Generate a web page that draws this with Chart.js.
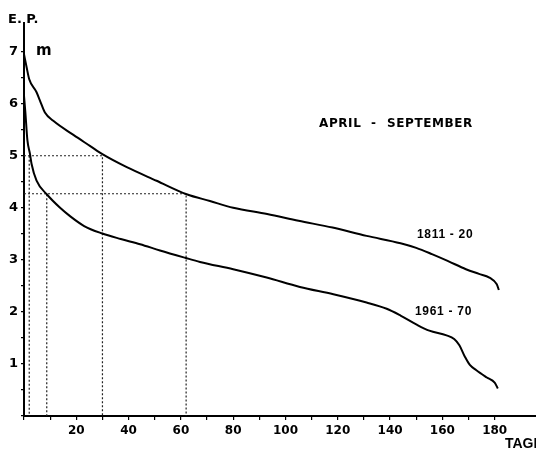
<!DOCTYPE html>
<html>
<head>
<meta charset="utf-8">
<script src="https://cdn.jsdelivr.net/npm/chart.js@4.4.1/dist/chart.umd.min.js"></script>
<style>
  html, body { margin: 0; padding: 0; background: #fff; }
  canvas { display: block; }
</style>
</head>
<body>
<canvas id="ep" width="536" height="449"></canvas>
<script>
// Dauerlinie der Evapotranspiration, April - September
const tage1811 = [0, 1, 2, 4.8, 6.1, 8, 11.2, 18.9, 25.2, 30.3, 39.3, 50.7, 62.2, 71.1, 80, 93, 105, 118, 131, 144, 150, 156, 162, 169, 174, 178, 180.8, 181.6];
const werte1811 = [6.95, 6.70, 6.47, 6.22, 6.06, 5.83, 5.67, 5.40, 5.19, 5.02, 4.78, 4.52, 4.26, 4.13, 4.00, 3.88, 3.75, 3.62, 3.46, 3.32, 3.23, 3.11, 2.98, 2.82, 2.73, 2.66, 2.53, 2.42];

const tage1961 = [0, 0.5, 1.3, 2.3, 2.9, 4.8, 8.7, 13.8, 17.6, 23, 29.7, 37, 44.4, 52, 61.6, 67.3, 80, 92.8, 105.5, 118.3, 131, 138.7, 144, 150, 155, 161.6, 164.5, 166.5, 168.6, 170.5, 173, 177, 180, 181.2];
const werte1961 = [6.15, 5.85, 5.30, 5.03, 4.84, 4.52, 4.26, 4.00, 3.84, 3.65, 3.51, 3.40, 3.30, 3.18, 3.04, 2.96, 2.82, 2.66, 2.48, 2.34, 2.18, 2.06, 1.93, 1.76, 1.64, 1.55, 1.48, 1.36, 1.14, 0.98, 0.88, 0.74, 0.64, 0.53];

// Hilfslinien (gepunktet): Tage / Werte
const hilfe5Tage = [0, 30, 30];
const hilfe5Werte = [5, 5, 0];
const hilfe427Tage = [0, 62, 62];
const hilfe427Werte = [4.27, 4.27, 0];
const hilfeSenkrechtTage = [2, 8.7];
const hilfeSenkrechtWerte = [5, 4.26];

const xMax = 195.8;
const yMax = 7.55;

function punkte(xs, ys) {
  return xs.map((x, i) => ({ x: x, y: ys[i] }));
}

const kurve = { borderColor: "#000", borderWidth: 2, pointRadius: 0, cubicInterpolationMode: "monotone", fill: false };
const punktiert = { borderColor: "#222", borderWidth: 1.2, borderDash: [2, 2], pointRadius: 0, tension: 0, fill: false };

const datasets = [
  { ...kurve, label: "1811-20", data: punkte(tage1811, werte1811) },
  { ...kurve, label: "1961-70", data: punkte(tage1961, werte1961) },
  { ...punktiert, data: punkte(hilfe5Tage, hilfe5Werte) },
  { ...punktiert, data: punkte(hilfe427Tage, hilfe427Werte) }
];
hilfeSenkrechtTage.forEach((t, i) => {
  datasets.push({ ...punktiert, data: punkte([t, t], [hilfeSenkrechtWerte[i], 0]) });
});

const schrift = '"Liberation Sans", Arial, sans-serif';
const breit = '"DejaVu Sans", sans-serif';

// Beschriftungen im Diagramm
const beschriftung = {
  id: "beschriftung",
  afterDraw(chart) {
    const ctx = chart.ctx;
    ctx.save();
    ctx.fillStyle = "#000";
    ctx.textBaseline = "alphabetic";
    ctx.textAlign = "left";

    ctx.font = "bold 13px " + breit;
    ctx.fillText("E. P.", 8, 23);
    ctx.font = "bold 15px " + breit;
    ctx.fillText("m", 36, 55);

    ctx.font = "bold 12px " + breit;
    ctx.letterSpacing = "0.6px";
    ctx.fillText("APRIL", 319, 127);
    ctx.fillText("-", 371, 127);
    ctx.fillText("SEPTEMBER", 387, 127);

    ctx.font = "bold 12px " + schrift;
    ctx.letterSpacing = "0.7px";
    ctx.fillText("1811 - 20", 417, 238);
    ctx.fillText("1961 - 70", 415, 315);
    ctx.letterSpacing = "0px";

    ctx.font = "bold 14px " + schrift;
    ctx.fillText("TAGE", 505, 448);
    ctx.restore();
  }
};

new Chart(document.getElementById("ep"), {
  type: "line",
  data: { datasets: datasets },
  plugins: [beschriftung],
  options: {
    responsive: false,
    animation: false,
    layout: { padding: { top: 23, right: 0, left: 0, bottom: 0 } },
    plugins: { legend: { display: false }, tooltip: { enabled: false } },
    scales: {
      x: {
        type: "linear",
        min: 0,
        max: xMax,
        afterFit: s => { s.height = 33; },
        afterBuildTicks: s => { s.ticks = s.ticks.filter(t => t.value % 10 === 0); },
        border: { color: "#000", width: 2 },
        grid: { drawOnChartArea: false, color: "#000", tickLength: 4, lineWidth: 1.2 },
        ticks: {
          stepSize: 10,
          autoSkip: false,
          maxRotation: 0,
          padding: 4,
          color: "#000",
          font: { family: breit, size: 12, weight: "bold" },
          callback: v => (v > 0 && v % 20 === 0) ? v : ""
        }
      },
      y: {
        min: 0,
        max: yMax,
        afterFit: s => { s.width = 24; },
        afterBuildTicks: s => { s.ticks = s.ticks.filter(t => Math.abs(t.value * 2 - Math.round(t.value * 2)) < 1e-6); },
        border: { color: "#000", width: 2 },
        grid: { drawOnChartArea: false, color: "#000", tickLength: 3, lineWidth: 1.2 },
        ticks: {
          stepSize: 0.5,
          autoSkip: false,
          padding: 3,
          color: "#000",
          font: { family: breit, size: 13, weight: "bold" },
          callback: v => (v > 0 && Number.isInteger(v)) ? v : ""
        }
      }
    }
  }
});
</script>
</body>
</html>
